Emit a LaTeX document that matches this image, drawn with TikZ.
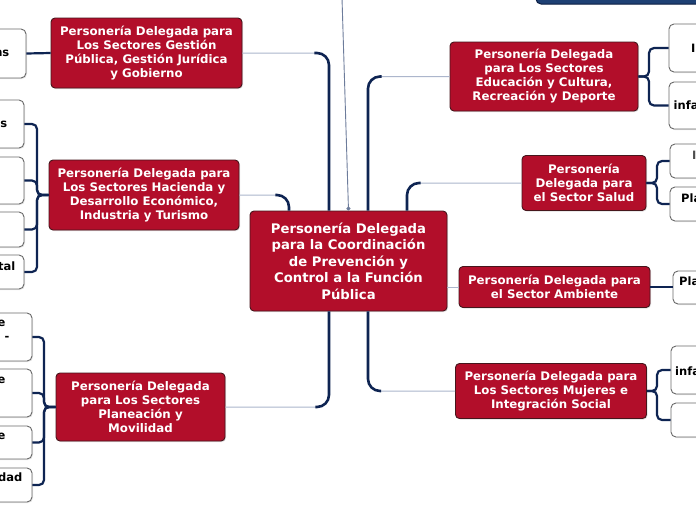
\documentclass[tikz,border=0pt]{standalone}
\usepackage{fontspec}
\setmainfont{DejaVu Sans}
\usetikzlibrary{calc,shadows,arrows.meta}
\definecolor{redfill}{RGB}{178,14,42}
\definecolor{redborder}{RGB}{70,22,28}
\definecolor{navy}{RGB}{14,36,82}
\definecolor{lightline}{RGB}{172,182,204}
\definecolor{leafborder}{RGB}{105,105,105}
\definecolor{topblue}{RGB}{30,64,116}
\begin{document}
\begin{tikzpicture}[x=1pt,y=-1pt,
  redbox/.style={draw=redborder, line width=0.9pt, fill=redfill, rounded corners=4pt,
    text=white, font=\bfseries\fontsize{11.8}{14}\selectfont, align=center, inner sep=0pt,
    drop shadow={shadow xshift=1pt, shadow yshift=-1pt, opacity=0.25}},
  leaf/.style={draw=leafborder, line width=0.9pt, fill=white, rounded corners=5pt, inner sep=0pt,
    drop shadow={shadow xshift=1pt, shadow yshift=-1pt, opacity=0.2}},
  leaftext/.style={font=\bfseries\fontsize{11.5}{14}\selectfont, text=black, inner sep=0pt},
  thinlink/.style={draw=lightline, line width=1pt, rounded corners=12pt},
  trunk/.style={draw=navy, line width=2.6pt, rounded corners=12pt},
  bracket/.style={draw=navy, line width=2.2pt, rounded corners=5pt},
]
\clip (0,0) rectangle (696,520);
\fill[white] (0,0) rectangle (696,520);

% top right blue box
\node[draw=navy!80!black, line width=1pt, fill=topblue, rounded corners=5pt, minimum width=170pt, minimum height=50pt, inner sep=0pt] (topbox) at (621,-21) {};

% red nodes
\node[redbox, minimum width=197pt, minimum height=100pt, font=\bfseries\fontsize{13.2}{16.5}\selectfont] (center) at (348.5,261)
  {Personería Delegada\\para la Coordinación\\de Prevención y\\Control a la Función\\Pública};
\node[redbox, minimum width=191pt, minimum height=70pt] (A) at (146.5,53)
  {Personería Delegada para\\Los Sectores Gestión\\Pública, Gestión Jurídica\\y Gobierno};
\node[redbox, minimum width=190pt, minimum height=70pt] (B) at (144,195)
  {Personería Delegada para\\Los Sectores Hacienda y\\Desarrollo Económico,\\Industria y Turismo};
\node[redbox, minimum width=169pt, minimum height=68pt] (C) at (140.5,407)
  {Personería Delegada\\para Los Sectores\\Planeación y\\Movilidad};
\node[redbox, minimum width=188pt, minimum height=69pt] (D) at (544,76.5)
  {Personería Delegada\\para Los Sectores\\Educación y Cultura,\\Recreación y Deporte};
\node[redbox, minimum width=124pt, minimum height=55pt] (E) at (584,183)
  {Personería\\Delegada para\\el Sector Salud};
\node[redbox, minimum width=191pt, minimum height=41pt] (F) at (554.5,287)
  {Personería Delegada para\\el Sector Ambiente};
\node[redbox, minimum width=191pt, minimum height=55pt] (G) at (551,391)
  {Personería Delegada para\\Los Sectores Mujeres e\\Integración Social};

% top incoming line
\coordinate (topin) at (342,-2);
\draw[draw=lightline!60!navy, line width=0.9pt, -{Circle[length=4pt]}] (topin) -- (center.north);

% trunk connectors
\draw[thinlink] (center.north -| 329,0) |- (A.east);
\draw[trunk] (center.north -| 329,0) |- ($(A.east)+(72,0)$);
\draw[thinlink] (center.north -| 289,0) |- (B.east);
\draw[trunk] (center.north -| 289,0) |- ($(B.east)+(36,0)$);
\draw[thinlink] (center.north -| 368,0) |- (D.west);
\draw[trunk] (center.north -| 368,0) |- ($(D.west)+(-68,0)$);
\draw[thinlink] (center.north -| 407,0) |- (E.west);
\draw[trunk] (center.north -| 407,0) |- ($(E.west)+(-101,0)$);
\draw[thinlink] (F.west -| center.east) -- (F.west);
\draw[thinlink] (center.south -| 368,0) |- (G.west);
\draw[trunk] (center.south -| 368,0) |- ($(G.west)+(-74,0)$);
\draw[thinlink] (center.south -| 329,0) |- (C.east);
\draw[trunk] (center.south -| 329,0) |- ($(C.east)+(90,0)$);

% left leaves
\node[leaf, minimum width=126pt, minimum height=49pt] (L1) at (-37,53.5) {};
\node[leaf, minimum width=124pt, minimum height=48pt] (L2) at (-38,124) {};
\node[leaf, minimum width=124pt, minimum height=47pt] (L3) at (-38,180.5) {};
\node[leaf, minimum width=124pt, minimum height=35pt] (L4) at (-38,229.5) {};
\node[leaf, minimum width=124pt, minimum height=34pt] (L5) at (-38,272) {};
\node[leaf, minimum width=132pt, minimum height=48pt] (L6) at (-34,337) {};
\node[leaf, minimum width=132pt, minimum height=48pt] (L7) at (-34,393) {};
\node[leaf, minimum width=132pt, minimum height=33pt] (L8) at (-34,442.5) {};
\node[leaf, minimum width=132pt, minimum height=34pt] (L9) at (-34,485) {};

\node[leaftext, anchor=east] (L1t) at (9.5,53.5) {ns};
\node[leaftext, anchor=east] (L2t) at (7.5,124) {s};
\node[leaftext, anchor=east] (L5t) at (15.5,266) {tal};
\node[leaftext, anchor=east] (L6t) at (5.5,323) {e};
\node[leaftext, anchor=east] (L6u) at (9.5,338) {-};
\node[leaftext, anchor=east] (L7t) at (5.5,380) {e};
\node[leaftext, anchor=east] (L8t) at (5.5,436) {e};
\node[leaftext, anchor=east] (L9t) at (22.5,477) {dad};

% right leaves
\node[leaf, minimum width=130pt, minimum height=48pt] (R1) at (734,48) {};
\node[leaf, minimum width=130pt, minimum height=47pt] (R2) at (734,105.5) {};
\node[leaf, minimum width=130pt, minimum height=34pt] (R3) at (735,161) {};
\node[leaf, minimum width=130pt, minimum height=34pt] (R4) at (735,204) {};
\node[leaf, minimum width=130pt, minimum height=33pt] (R5) at (738,287.5) {};
\node[leaf, minimum width=130pt, minimum height=48pt] (R6) at (736,370) {};
\node[leaf, minimum width=130pt, minimum height=34pt] (R7) at (736,420) {};

\node[leaftext, anchor=west] (R1t) at (691,48) {I};
\node[leaftext, anchor=west] (R2t) at (673.5,105.5) {infa};
\node[leaftext, anchor=west, text=black!70] (R3t) at (692,155) {I};
\node[leaftext, anchor=west] (R4t) at (681,198) {Pla};
\node[leaftext, anchor=west] (R5t) at (679,281) {Pla};
\node[leaftext, anchor=west] (R6t) at (675,371) {infa};

% brackets
\draw[bracket] (A.west) -- (L1.east);
\coordinate (bB) at (37,195);
\foreach \l in {L2,L3,L4,L5} \draw[bracket] (B.west) -- (bB) |- (\l.east);
\coordinate (bC) at (44,407);
\foreach \l in {L6,L7,L8,L9} \draw[bracket] (C.west) -- (bC) |- (\l.east);
\coordinate (bD) at (649,76.5);
\foreach \l in {R1,R2} \draw[bracket] (D.east) -- (bD) |- (\l.west);
\coordinate (bE) at (657,183);
\foreach \l in {R3,R4} \draw[bracket] (E.east) -- (bE) |- (\l.west);
\draw[bracket] (F.east) -- (R5.west |- F.east);
\coordinate (bG) at (657,391);
\foreach \l in {R6,R7} \draw[bracket] (G.east) -- (bG) |- (\l.west);
\end{tikzpicture}
\end{document}
